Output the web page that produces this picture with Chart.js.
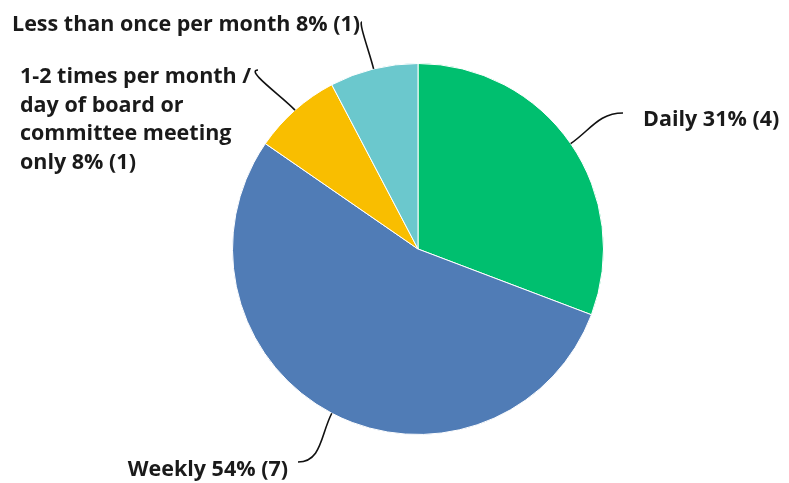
<!DOCTYPE html>
<html>
<head>
<meta charset="utf-8">
<script src="https://cdn.jsdelivr.net/npm/chart.js@4.4.0/dist/chart.umd.min.js"></script>
<style>
  html, body { margin: 0; padding: 0; background: #fff; }
  #wrap { width: 789px; height: 483px; }
</style>
</head>
<body>
<div id="wrap"><canvas id="myChart" width="789" height="483"></canvas></div>
<script>
const categories = ['Daily', 'Weekly', '1-2 times per month / day of board or committee meeting only', 'Less than once per month'];
const counts = [4, 7, 1, 1];
const colors = ['#00BF6F', '#507CB6', '#F9BE00', '#6BC8CD'];

// label text lines
const labelLines = [
  ['Daily 31% (4)'],
  ['Weekly 54% (7)'],
  ['1-2 times per month /', 'day of board or', 'committee meeting', 'only 8% (1)'],
  ['Less than once per month 8% (1)']
];

const labelPlugin = {
  id: 'pieLabels',
  afterDatasetsDraw(chart) {
    const c = chart.ctx;
    const meta = chart.getDatasetMeta(0);
    // end of leader line, text anchor, curve tension (radial side, end side)
    const layout = [
      { end: [623, 113], text: [643, 120], align: 'left', k1: 0.4, k2: 0.4 },
      { end: [298, 462], text: [288, 470], align: 'right', k1: 0.4, k2: 0.4 },
      { end: [258, 70], text: [20, 77], align: 'left', k1: 0.3, k2: 0.25 },
      { end: [362, 22], text: [12, 25], align: 'left', k1: 0.35, k2: 0.08 }
    ];
    c.save();
    c.font = 'bold 21.5px "Open Sans"';
    c.fillStyle = '#1a1a1a';
    c.strokeStyle = '#111';
    c.lineWidth = 1.6;
    meta.data.forEach((arc, i) => {
      const mid = (arc.startAngle + arc.endAngle) / 2;
      const sx = arc.x + Math.cos(mid) * arc.outerRadius;
      const sy = arc.y + Math.sin(mid) * arc.outerRadius;
      const L = layout[i];
      const [ex, ey] = L.end;
      const dist = Math.hypot(ex - sx, ey - sy);
      const dirX = L.align === 'left' ? 1 : -1;
      c.beginPath();
      c.moveTo(sx, sy);
      c.bezierCurveTo(sx + Math.cos(mid) * dist * L.k1, sy + Math.sin(mid) * dist * L.k1,
                      ex - dirX * dist * L.k2, ey, ex, ey);
      c.stroke();
      c.textAlign = L.align;
      c.textBaseline = 'middle';
      labelLines[i].forEach((t, j) => {
        c.fillText(t, L.text[0], L.text[1] + j * 28.5);
      });
    });
    c.restore();
  }
};

const ctx = document.getElementById('myChart');

new Chart(ctx, {
  type: 'pie',
  data: {
    labels: categories,
    datasets: [{
      data: counts,
      backgroundColor: colors,
      borderColor: '#fff',
      borderWidth: 1
    }]
  },
  options: {
    responsive: false,
    animation: false,
    plugins: {
      legend: false,
      tooltip: { enabled: false }
    },
    layout: {
      padding: { left: 232, right: 185, top: 63, bottom: 48 }
    }
  },
  plugins: [labelPlugin]
});
</script>
</body>
</html>
